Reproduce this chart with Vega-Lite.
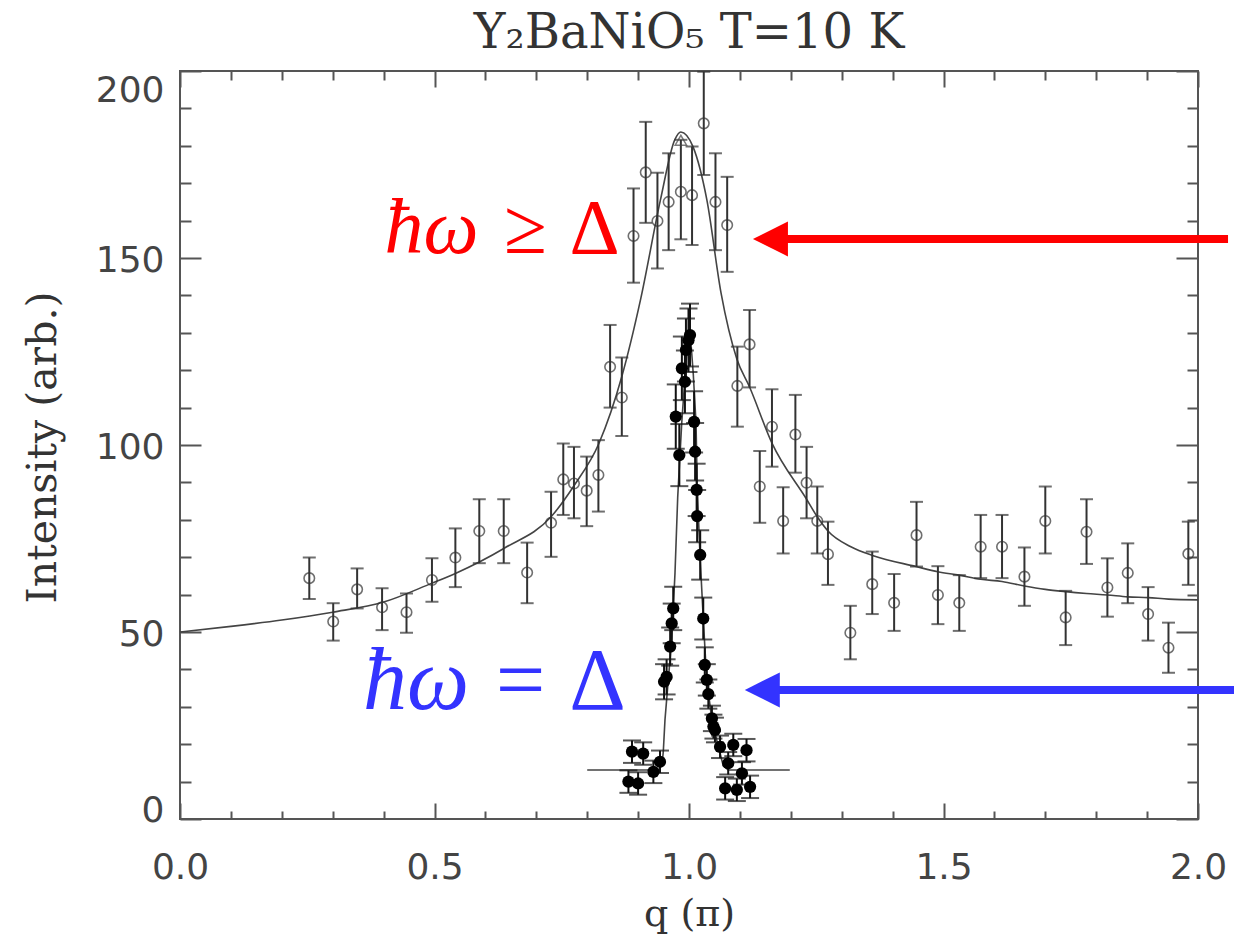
{
  "$schema": "https://vega.github.io/schema/vega-lite/v6.json",
  "width": 1018,
  "height": 748,
  "autosize": {"type": "none"},
  "padding": {"left": 180, "top": 71, "right": 36, "bottom": 123},
  "background": "white",
  "title": {"text": "Y₂BaNiO₅ T=10 K", "font": "DejaVu Serif", "fontSize": 48, "fontWeight": "normal", "color": "#333", "anchor": "middle", "baseline": "alphabetic", "offset": -26},
  "config": {
    "view": {"stroke": "#555", "strokeWidth": 2},
    "axis": {"grid": false, "domain": false, "labelFont": "DejaVu Sans", "labelFontSize": 36, "labelColor": "#444", "tickColor": "#555", "tickWidth": 2, "titleFont": "DejaVu Serif", "titleFontSize": 41, "titleColor": "#333", "titleFontWeight": "normal", "labelFlush": false}
  },
  "datasets": {
    "broad": [
      {"q": 0, "I": 50}, {"q": 0.1, "I": 51.5}, {"q": 0.2, "I": 53.2}, {"q": 0.3, "I": 55.3}, {"q": 0.4, "I": 58}, {"q": 0.494, "I": 63}, {"q": 0.54, "I": 65.6}, {"q": 0.637, "I": 72.4}, {"q": 0.729, "I": 80.8}, {"q": 0.775, "I": 89.3}, {"q": 0.823, "I": 100.4}, {"q": 0.868, "I": 118.3}, {"q": 0.905, "I": 139}, {"q": 0.944, "I": 165.6}, {"q": 0.972, "I": 181.6}, {"q": 0.984, "I": 183.7}, {"q": 1.008, "I": 179.7}, {"q": 1.035, "I": 165.6}, {"q": 1.063, "I": 140.6}, {"q": 1.094, "I": 123}, {"q": 1.119, "I": 115.5}, {"q": 1.163, "I": 100.5}, {"q": 1.231, "I": 85.5}, {"q": 1.252, "I": 80.8}, {"q": 1.273, "I": 77}, {"q": 1.318, "I": 72.8}, {"q": 1.362, "I": 70.4}, {"q": 1.446, "I": 67.5}, {"q": 1.489, "I": 66.1}, {"q": 1.531, "I": 65.2}, {"q": 1.573, "I": 64.1}, {"q": 1.615, "I": 63.5}, {"q": 1.659, "I": 62.3}, {"q": 1.7, "I": 61.4}, {"q": 1.74, "I": 60.8}, {"q": 1.781, "I": 60.3}, {"q": 1.822, "I": 59.9}, {"q": 1.862, "I": 59.4}, {"q": 1.902, "I": 59.2}, {"q": 1.942, "I": 58.8}, {"q": 2.0, "I": 58.6}
    ],
    "narrow": [
      {"q": 0.8, "I": 13.1}, {"q": 0.94, "I": 13.1}, {"q": 0.947, "I": 14.5}, {"q": 0.9495, "I": 18}, {"q": 0.9528, "I": 26.5}, {"q": 0.9593, "I": 37.2}, {"q": 0.966, "I": 47.9}, {"q": 0.9725, "I": 65.8}, {"q": 0.9778, "I": 86}, {"q": 0.9857, "I": 105.8}, {"q": 0.9921, "I": 118.2}, {"q": 0.9986, "I": 130}, {"q": 1.004, "I": 127}, {"q": 1.0084, "I": 119}, {"q": 1.0138, "I": 105.8}, {"q": 1.0163, "I": 88}, {"q": 1.0216, "I": 70.6}, {"q": 1.028, "I": 53.6}, {"q": 1.0348, "I": 37.2}, {"q": 1.0446, "I": 26.9}, {"q": 1.0576, "I": 19.3}, {"q": 1.0674, "I": 14.2}, {"q": 1.077, "I": 13.1}, {"q": 1.198, "I": 13.1}
    ],
    "open": [
      {"q": 0.254, "I": 64.4, "lo": 58.8, "hi": 69.9}, {"q": 0.301, "I": 52.8, "lo": 47.7, "hi": 57.7}, {"q": 0.348, "I": 61.4, "lo": 56.3, "hi": 67.0}, {"q": 0.397, "I": 56.6, "lo": 50.5, "hi": 61.7}, {"q": 0.445, "I": 55.3, "lo": 49.8, "hi": 60.3}, {"q": 0.495, "I": 63.9, "lo": 58.1, "hi": 69.7}, {"q": 0.541, "I": 69.9, "lo": 62.0, "hi": 77.7}, {"q": 0.588, "I": 77.0, "lo": 68.4, "hi": 85.5}, {"q": 0.636, "I": 77.0, "lo": 68.4, "hi": 85.5}, {"q": 0.682, "I": 65.9, "lo": 57.7, "hi": 73.9}, {"q": 0.729, "I": 79.2, "lo": 70.1, "hi": 87.5}, {"q": 0.753, "I": 90.8, "lo": 81.3, "hi": 100.4}, {"q": 0.774, "I": 89.7, "lo": 80.4, "hi": 99.5}, {"q": 0.799, "I": 87.8, "lo": 78.3, "hi": 96.9}, {"q": 0.822, "I": 92.0, "lo": 82.2, "hi": 101.3}, {"q": 0.845, "I": 120.9, "lo": 110.0, "hi": 132.1}, {"q": 0.868, "I": 112.7, "lo": 102.4, "hi": 123.4}, {"q": 0.891, "I": 155.9, "lo": 143.4, "hi": 168.6}, {"q": 0.915, "I": 172.9, "lo": 159.4, "hi": 186.4}, {"q": 0.938, "I": 159.9, "lo": 147.2, "hi": 172.8}, {"q": 0.96, "I": 165.0, "lo": 152.1, "hi": 178.0}, {"q": 0.984, "I": 167.7, "lo": 155.0, "hi": 181.6}, {"q": 1.006, "I": 166.8, "lo": 153.5, "hi": 179.8}, {"q": 1.029, "I": 186.0, "lo": 172.2, "hi": 199.8}, {"q": 1.052, "I": 165.0, "lo": 152.1, "hi": 178.0}, {"q": 1.075, "I": 158.8, "lo": 146.3, "hi": 171.7}, {"q": 1.095, "I": 115.8, "lo": 104.9, "hi": 126.3}, {"q": 1.119, "I": 126.9, "lo": 115.4, "hi": 136.1}, {"q": 1.139, "I": 88.9, "lo": 79.2, "hi": 98.4}, {"q": 1.163, "I": 104.9, "lo": 94.2, "hi": 114.9}, {"q": 1.185, "I": 79.7, "lo": 71.0, "hi": 88.7}, {"q": 1.209, "I": 102.8, "lo": 92.6, "hi": 113.4}, {"q": 1.231, "I": 89.9, "lo": 80.4, "hi": 99.5}, {"q": 1.252, "I": 79.7, "lo": 71.0, "hi": 88.9}, {"q": 1.273, "I": 70.8, "lo": 62.6, "hi": 79.5}, {"q": 1.317, "I": 49.8, "lo": 42.7, "hi": 57.0}, {"q": 1.36, "I": 62.8, "lo": 54.8, "hi": 71.5}, {"q": 1.403, "I": 57.8, "lo": 50.3, "hi": 65.5}, {"q": 1.447, "I": 75.9, "lo": 67.5, "hi": 84.8}, {"q": 1.489, "I": 59.9, "lo": 52.1, "hi": 67.6}, {"q": 1.531, "I": 57.8, "lo": 50.3, "hi": 65.2}, {"q": 1.573, "I": 72.8, "lo": 64.4, "hi": 81.3}, {"q": 1.615, "I": 72.8, "lo": 64.4, "hi": 81.3}, {"q": 1.659, "I": 64.8, "lo": 57.0, "hi": 72.6}, {"q": 1.7, "I": 79.7, "lo": 71.0, "hi": 88.9}, {"q": 1.74, "I": 53.9, "lo": 46.5, "hi": 61.0}, {"q": 1.781, "I": 76.8, "lo": 68.2, "hi": 85.5}, {"q": 1.822, "I": 61.9, "lo": 54.1, "hi": 69.7}, {"q": 1.862, "I": 65.8, "lo": 57.7, "hi": 73.7}, {"q": 1.902, "I": 54.8, "lo": 47.7, "hi": 62.0}, {"q": 1.942, "I": 45.8, "lo": 39.1, "hi": 52.5}, {"q": 1.981, "I": 70.9, "lo": 62.6, "hi": 79.5}
    ],
    "filled": [
      {"q": 0.881, "I": 10.0, "lo": 7, "hi": 13}, {"q": 0.9, "I": 9.5, "lo": 6.5, "hi": 12.5}, {"q": 0.888, "I": 18.0, "lo": 15, "hi": 21}, {"q": 0.91, "I": 17.5, "lo": 14.5, "hi": 20.5}, {"q": 0.93, "I": 12.6, "lo": 9.6, "hi": 15.6}, {"q": 0.943, "I": 15.3, "lo": 12.3, "hi": 18.3}, {"q": 0.951, "I": 36.7, "lo": 32, "hi": 41.4}, {"q": 0.956, "I": 38.0, "lo": 33.3, "hi": 42.7}, {"q": 0.963, "I": 46.1, "lo": 41, "hi": 51.2}, {"q": 0.966, "I": 52.3, "lo": 47, "hi": 57.6}, {"q": 0.969, "I": 56.3, "lo": 50.5, "hi": 62.1}, {"q": 0.974, "I": 107.6, "lo": 99, "hi": 116.2}, {"q": 0.981, "I": 97.3, "lo": 89, "hi": 105.6}, {"q": 0.986, "I": 120.5, "lo": 112, "hi": 129}, {"q": 0.992, "I": 116.9, "lo": 108.5, "hi": 125.3}, {"q": 0.994, "I": 125.4, "lo": 117, "hi": 133.8}, {"q": 0.999, "I": 128, "lo": 119.5, "hi": 136.5}, {"q": 1.002, "I": 129.4, "lo": 121, "hi": 137.8}, {"q": 1.01, "I": 106.2, "lo": 98, "hi": 114.4}, {"q": 1.012, "I": 98.2, "lo": 90.5, "hi": 105.9}, {"q": 1.015, "I": 88, "lo": 81, "hi": 95}, {"q": 1.016, "I": 81, "lo": 74, "hi": 88}, {"q": 1.022, "I": 70.6, "lo": 64, "hi": 77.2}, {"q": 1.028, "I": 53.6, "lo": 48, "hi": 59.2}, {"q": 1.031, "I": 41.2, "lo": 36.5, "hi": 45.9}, {"q": 1.035, "I": 37.2, "lo": 33, "hi": 41.4}, {"q": 1.038, "I": 33.4, "lo": 29.5, "hi": 37.3}, {"q": 1.045, "I": 26.9, "lo": 23.5, "hi": 30.3}, {"q": 1.048, "I": 24.7, "lo": 21.5, "hi": 27.9}, {"q": 1.051, "I": 23.8, "lo": 20.5, "hi": 27.1}, {"q": 1.061, "I": 19.3, "lo": 16.3, "hi": 22.3}, {"q": 1.087, "I": 19.8, "lo": 16.8, "hi": 22.8}, {"q": 1.113, "I": 18.4, "lo": 15.4, "hi": 21.4}, {"q": 1.077, "I": 14.9, "lo": 11.9, "hi": 17.9}, {"q": 1.104, "I": 12.2, "lo": 9.2, "hi": 15.2}, {"q": 1.071, "I": 8.2, "lo": 5.2, "hi": 11.2}, {"q": 1.094, "I": 7.8, "lo": 4.8, "hi": 10.8}, {"q": 1.12, "I": 8.6, "lo": 5.6, "hi": 11.6}
    ],
    "peak": [{"q": 0.984, "I": 181.5}],
    "arrows": [
      {"kind": "gt", "q": 1.16, "q2": 2.059, "I": 155.1},
      {"kind": "eq", "q": 1.144, "q2": 2.075, "I": 34.5}
    ],
    "notes": [
      {"kind": "gt", "part": "hw", "text": "ħω", "q": 0.494, "I": 151.3},
      {"kind": "gt", "part": "rel", "text": "≥", "q": 0.679, "I": 151.3},
      {"kind": "gt", "part": "rel", "text": "Δ", "q": 0.8143, "I": 151.3},
      {"kind": "eq", "part": "hw", "text": "ħω", "q": 0.4637, "I": 29.4},
      {"kind": "eq", "part": "rel", "text": "=", "q": 0.669, "I": 29.4},
      {"kind": "eq", "part": "rel", "text": "Δ", "q": 0.8202, "I": 29.4}
    ]
  },
  "layer": [
    {
      "data": {"name": "broad"},
      "mark": {"type": "line", "color": "#444", "strokeWidth": 1.6, "interpolate": "monotone"},
      "encoding": {
        "x": {"field": "q", "type": "quantitative", "scale": {"domain": [0, 2], "nice": false, "zero": false},
              "axis": {"orient": "bottom", "ticks": false, "values": [0, 0.5, 1, 1.5, 2], "format": ".1f", "labelPadding": 59, "labelBaseline": "alphabetic", "labelFlush": false, "title": "q (π)", "titleY": 106, "titleBaseline": "alphabetic", "titleFontSize": 38}},
        "y": {"field": "I", "type": "quantitative", "scale": {"domain": [0, 200], "nice": false},
              "axis": {"orient": "left", "ticks": false, "values": [0, 50, 100, 150, 200], "labelPadding": 16, "labelFlush": false, "labelOffset": 2,
                       "labelBaseline": {"condition": [{"test": "datum.value == 0", "value": "alphabetic"}, {"test": "datum.value == 200", "value": "top"}], "value": "middle"},
                       "title": "Intensity (arb.)", "titleX": -125, "titleY": 376, "titleBaseline": "alphabetic", "titleAngle": 270}}
      }
    },
    {
      "data": {"name": "narrow"},
      "mark": {"type": "line", "color": "#444", "strokeWidth": 1.6},
      "encoding": {
        "x": {"field": "q", "type": "quantitative", "scale": {"domain": [0, 2], "nice": false, "zero": false},
              "axis": {"orient": "bottom", "labels": false, "title": null, "values": [0, 0.5, 1, 1.5, 2], "tickSize": -16}},
        "y": {"field": "I", "type": "quantitative", "scale": {"domain": [0, 200], "nice": false},
              "axis": {"orient": "left", "labels": false, "title": null, "values": [0, 50, 100, 150, 200], "tickSize": -21}}
      }
    },
    {
      "data": {"name": "open"},
      "mark": {"type": "rule", "color": "#333", "strokeWidth": 2},
      "encoding": {
        "x": {"field": "q", "type": "quantitative", "scale": {"domain": [0, 2], "nice": false, "zero": false},
              "axis": {"orient": "bottom", "labels": false, "title": null, "values": [0.1, 0.2, 0.3, 0.4, 0.6, 0.7, 0.8, 0.9, 1.1, 1.2, 1.3, 1.4, 1.6, 1.7, 1.8, 1.9], "tickSize": -8}},
        "y": {"field": "lo", "type": "quantitative", "scale": {"domain": [0, 200], "nice": false},
              "axis": {"orient": "left", "labels": false, "title": null, "values": [10, 20, 30, 40, 60, 70, 80, 90, 110, 120, 130, 140, 160, 170, 180, 190], "tickSize": -11}},
        "y2": {"field": "hi"}
      }
    },
    {
      "data": {"name": "open"},
      "mark": {"type": "tick", "orient": "horizontal", "color": "#333", "size": 13, "thickness": 2},
      "encoding": {
        "x": {"field": "q", "type": "quantitative", "scale": {"domain": [0, 2], "nice": false, "zero": false},
              "axis": {"orient": "top", "labels": false, "title": null, "values": [0, 0.5, 1, 1.5, 2], "tickSize": -16}},
        "y": {"field": "lo", "type": "quantitative", "scale": {"domain": [0, 200], "nice": false},
              "axis": {"orient": "right", "labels": false, "title": null, "values": [0, 50, 100, 150, 200], "tickSize": -22}}
      }
    },
    {
      "data": {"name": "open"},
      "mark": {"type": "tick", "orient": "horizontal", "color": "#333", "size": 13, "thickness": 2},
      "encoding": {
        "x": {"field": "q", "type": "quantitative", "scale": {"domain": [0, 2], "nice": false, "zero": false},
              "axis": {"orient": "top", "labels": false, "title": null, "values": [0.1, 0.2, 0.3, 0.4, 0.6, 0.7, 0.8, 0.9, 1.1, 1.2, 1.3, 1.4, 1.6, 1.7, 1.8, 1.9], "tickSize": -9}},
        "y": {"field": "hi", "type": "quantitative", "scale": {"domain": [0, 200], "nice": false},
              "axis": {"orient": "right", "labels": false, "title": null, "values": [10, 20, 30, 40, 60, 70, 80, 90, 110, 120, 130, 140, 160, 170, 180, 190], "tickSize": -11}}
      }
    },
    {
      "data": {"name": "open"},
      "mark": {"type": "point", "shape": "circle", "filled": false, "color": "#333", "strokeWidth": 1.6, "size": 110},
      "encoding": {
        "x": {"field": "q", "type": "quantitative", "scale": {"domain": [0, 2], "nice": false, "zero": false}, "axis": null},
        "y": {"field": "I", "type": "quantitative", "scale": {"domain": [0, 200], "nice": false}, "axis": null}
      }
    },
    {
      "data": {"name": "filled"},
      "mark": {"type": "rule", "color": "#111", "strokeWidth": 2},
      "encoding": {
        "x": {"field": "q", "type": "quantitative", "scale": {"domain": [0, 2], "nice": false, "zero": false}, "axis": null},
        "y": {"field": "lo", "type": "quantitative", "scale": {"domain": [0, 200], "nice": false}, "axis": null},
        "y2": {"field": "hi"}
      }
    },
    {
      "data": {"name": "filled"},
      "mark": {"type": "tick", "orient": "horizontal", "color": "#111", "size": 18, "thickness": 2},
      "encoding": {
        "x": {"field": "q", "type": "quantitative", "scale": {"domain": [0, 2], "nice": false, "zero": false}, "axis": null},
        "y": {"field": "lo", "type": "quantitative", "scale": {"domain": [0, 200], "nice": false}, "axis": null}
      }
    },
    {
      "data": {"name": "filled"},
      "mark": {"type": "tick", "orient": "horizontal", "color": "#111", "size": 18, "thickness": 2},
      "encoding": {
        "x": {"field": "q", "type": "quantitative", "scale": {"domain": [0, 2], "nice": false, "zero": false}, "axis": null},
        "y": {"field": "hi", "type": "quantitative", "scale": {"domain": [0, 200], "nice": false}, "axis": null}
      }
    },
    {
      "data": {"name": "filled"},
      "mark": {"type": "point", "shape": "circle", "filled": true, "color": "#000", "opacity": 1, "size": 150},
      "encoding": {
        "x": {"field": "q", "type": "quantitative", "scale": {"domain": [0, 2], "nice": false, "zero": false}, "axis": null},
        "y": {"field": "I", "type": "quantitative", "scale": {"domain": [0, 200], "nice": false}, "axis": null}
      }
    },
    {
      "data": {"name": "peak"},
      "mark": {"type": "point", "shape": "triangle-up", "filled": false, "color": "#444", "strokeWidth": 1.5, "size": 130},
      "encoding": {
        "x": {"field": "q", "type": "quantitative", "scale": {"domain": [0, 2], "nice": false, "zero": false}, "axis": null},
        "y": {"field": "I", "type": "quantitative", "scale": {"domain": [0, 200], "nice": false}, "axis": null}
      }
    },
    {
      "data": {"name": "arrows"},
      "mark": {"type": "rule", "strokeWidth": 8},
      "encoding": {
        "x": {"field": "q", "type": "quantitative", "scale": {"domain": [0, 2], "nice": false, "zero": false}, "axis": null},
        "x2": {"field": "q2"},
        "y": {"field": "I", "type": "quantitative", "scale": {"domain": [0, 200], "nice": false}, "axis": null},
        "color": {"field": "kind", "type": "nominal", "scale": {"domain": ["gt", "eq"], "range": ["#ff0000", "#3333ff"]}, "legend": null}
      }
    },
    {
      "data": {"name": "arrows"},
      "mark": {"type": "point", "shape": "M-1,0L1,-1L1,1Z", "filled": true, "opacity": 1, "size": 1225, "strokeWidth": 0},
      "encoding": {
        "x": {"field": "q", "type": "quantitative", "scale": {"domain": [0, 2], "nice": false, "zero": false}, "axis": null},
        "y": {"field": "I", "type": "quantitative", "scale": {"domain": [0, 200], "nice": false}, "axis": null},
        "color": {"field": "kind", "type": "nominal", "scale": {"domain": ["gt", "eq"], "range": ["#ff0000", "#3333ff"]}, "legend": null}
      }
    },
    {
      "data": {"name": "notes"},
      "transform": [{"filter": "datum.kind == 'gt' && datum.part == 'hw'"}],
      "mark": {"type": "text", "font": "Liberation Serif", "fontStyle": "italic", "fontSize": 78, "color": "#ff0000", "align": "center", "baseline": "alphabetic"},
      "encoding": {
        "x": {"field": "q", "type": "quantitative", "scale": {"domain": [0, 2], "nice": false, "zero": false}, "axis": null},
        "y": {"field": "I", "type": "quantitative", "scale": {"domain": [0, 200], "nice": false}, "axis": null},
        "text": {"field": "text"}
      }
    },
    {
      "data": {"name": "notes"},
      "transform": [{"filter": "datum.kind == 'gt' && datum.part == 'rel'"}],
      "mark": {"type": "text", "font": "Liberation Serif", "fontSize": 78, "color": "#ff0000", "align": "center", "baseline": "alphabetic"},
      "encoding": {
        "x": {"field": "q", "type": "quantitative", "scale": {"domain": [0, 2], "nice": false, "zero": false}, "axis": null},
        "y": {"field": "I", "type": "quantitative", "scale": {"domain": [0, 200], "nice": false}, "axis": null},
        "text": {"field": "text"}
      }
    },
    {
      "data": {"name": "notes"},
      "transform": [{"filter": "datum.kind == 'eq' && datum.part == 'hw'"}],
      "mark": {"type": "text", "font": "Liberation Serif", "fontStyle": "italic", "fontSize": 88, "color": "#3333ff", "align": "center", "baseline": "alphabetic"},
      "encoding": {
        "x": {"field": "q", "type": "quantitative", "scale": {"domain": [0, 2], "nice": false, "zero": false}, "axis": null},
        "y": {"field": "I", "type": "quantitative", "scale": {"domain": [0, 200], "nice": false}, "axis": null},
        "text": {"field": "text"}
      }
    },
    {
      "data": {"name": "notes"},
      "transform": [{"filter": "datum.kind == 'eq' && datum.part == 'rel'"}],
      "mark": {"type": "text", "font": "Liberation Serif", "fontSize": 88, "color": "#3333ff", "align": "center", "baseline": "alphabetic"},
      "encoding": {
        "x": {"field": "q", "type": "quantitative", "scale": {"domain": [0, 2], "nice": false, "zero": false}, "axis": null},
        "y": {"field": "I", "type": "quantitative", "scale": {"domain": [0, 200], "nice": false}, "axis": null},
        "text": {"field": "text"}
      }
    }
  ],
  "resolve": {"axis": {"x": "independent", "y": "independent"}}
}
